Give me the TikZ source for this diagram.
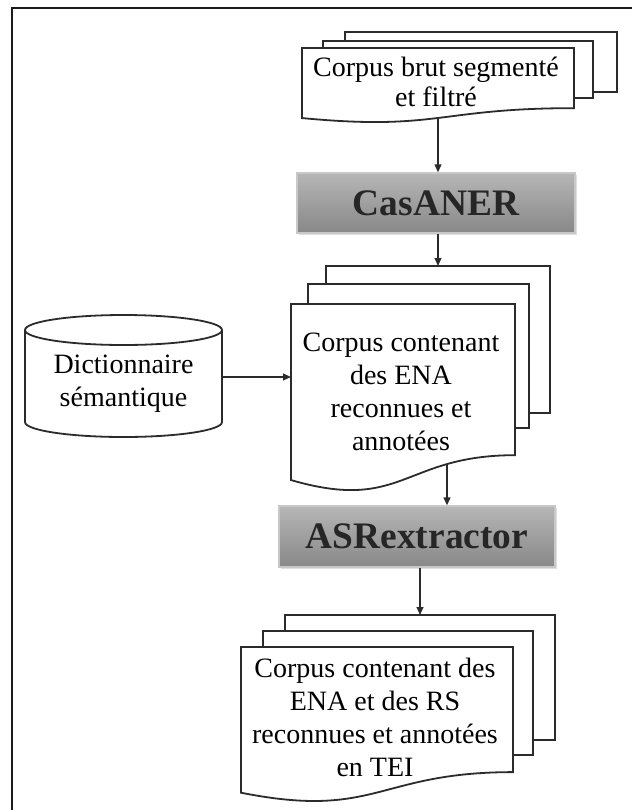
\documentclass[tikz,border=0pt]{standalone}
\usepackage{fontspec}
\setmainfont{Liberation Serif}
\usetikzlibrary{arrows.meta, positioning, calc, shadows}
\definecolor{ink}{HTML}{2b2b2b}
\definecolor{frameInk}{HTML}{1a1a1a}
\definecolor{toolTop}{HTML}{b6b6b6}
\definecolor{toolMid}{HTML}{9c9c9c}
\definecolor{toolBot}{HTML}{888888}
\definecolor{toolEdge}{HTML}{c8c8c8}
\def\waveR{0.802}
\def\waveC{1.107}
\def\waveL{0.934}
\def\dbRx{98.5}
\def\dbRy{15}

\begin{document}
\begin{tikzpicture}[
    x=0.5pt, y=-0.5pt,
    every node/.style={font=\fontsize{14}{16.5}\selectfont},
    page/.style={draw=ink, line width=0.9pt, fill=white},
    doctext/.style={align=center, inner sep=0pt},
    tool/.style={draw=toolEdge, line width=0.6pt, top color=toolTop,
                 middle color=toolMid, bottom color=toolBot,
                 drop shadow={opacity=0.25, shadow xshift=1pt, shadow yshift=-1pt},
                 font=\fontsize{18.7}{20}\selectfont\bfseries, text=black!85},
    flow/.style={-{Triangle[length=4pt,width=3.4pt]}, line width=0.75pt, draw=ink},
    ]

\useasboundingbox (0,0) rectangle (632,810);

% outer frame (only left and top edges show)
\draw[frameInk, line width=1pt] (12,810) -- (12,8) -- (632,8);

% ====================================================================
% Raw corpus (multi-document, top)
% ====================================================================
\begin{scope}
\def\dl{302}
\def\dt{48}
\def\dr{574}
\def\dh{75}
\draw[page] (345,32) rectangle (617,92);
\draw[page] (323,41) rectangle (593,98);
\draw[page] (\dl,\dt) -- (\dr,\dt) -- (\dr,\dt+\waveR*\dh)
  .. controls ({(\dl+\dr)/2},\dt+\waveR*\dh) and ({(\dl+\dr)/2},\dt+\waveC*\dh)
  .. (\dl,\dt+\waveL*\dh) -- cycle;
\node[doctext, font=\fontsize{14}{15}\selectfont] (raw) at (436,82)
  {Corpus brut segmenté\\et filtré};
\coordinate (raw-bot) at (438,\dt+0.933*\dh);
\end{scope}

% CasANER tool
\node[tool, minimum width=139pt, minimum height=30pt] (casaner) at (436,203) {CasANER};

% ====================================================================
% Annotated corpus (multi-document, middle)
% ====================================================================
\begin{scope}
\def\dl{291}
\def\dt{304}
\def\dr{515}
\def\dh{188.5}
\draw[page] (326,266) rectangle (550,413);
\draw[page] (308,284) rectangle (529,428);
\draw[page] (\dl,\dt) -- (\dr,\dt) -- (\dr,\dt+\waveR*\dh)
  .. controls ({(\dl+\dr)/2},\dt+\waveR*\dh) and ({(\dl+\dr)/2},\dt+\waveC*\dh)
  .. (\dl,\dt+\waveL*\dh) -- cycle;
\node[doctext] (ena) at (401,392)
  {Corpus contenant\\des ENA\\reconnues et\\annotées};
\coordinate (ena-top) at (438,266);
\coordinate (ena-left) at (\dl,377);
\coordinate (ena-bot) at (447,464);
\end{scope}

% Semantic dictionary (database cylinder)
\draw[ink, line width=0.9pt, fill=white] (25,330) -- (25,422)
  arc[start angle=180, end angle=0, x radius=\dbRx, y radius=\dbRy] -- (222,330);
\draw[ink, line width=0.9pt] (123.5,330) ellipse [x radius=\dbRx, y radius=\dbRy];
\node[doctext, minimum width=98.5pt] (dict) at (123.5,384)
  {Dictionnaire\\sémantique};

% ASRextractor tool
\node[tool, minimum width=138pt, minimum height=30.5pt] (asr) at (417,536.5) {ASRextractor};

% ====================================================================
% Final corpus (multi-document, bottom)
% ====================================================================
\begin{scope}
\def\dl{241}
\def\dt{647}
\def\dr{513}
\def\dh{156}
\draw[page] (285,615) rectangle (555,740);
\draw[page] (263,631) rectangle (533,755);
\draw[page] (\dl,\dt) -- (\dr,\dt) -- (\dr,\dt+\waveR*\dh)
  .. controls ({(\dl+\dr)/2},\dt+\waveR*\dh) and ({(\dl+\dr)/2},\dt+\waveC*\dh)
  .. (\dl,\dt+\waveL*\dh) -- cycle;
\node[doctext] (tei) at (375,717)
  {Corpus contenant des\\ENA et des RS\\reconnues et annotées\\en TEI};
\coordinate (tei-top) at (420,615);
\end{scope}

% flow arrows
\draw[flow] (raw-bot) -- (raw-bot |- casaner.north);
\draw[flow] (casaner.south -| ena-top) -- (ena-top);
\draw[flow] (dict.east |- ena-left) -- (ena-left);
\draw[flow] (ena-bot) -- (ena-bot |- asr.north);
\draw[flow] (asr.south -| tei-top) -- (tei-top);

\end{tikzpicture}
\end{document}
